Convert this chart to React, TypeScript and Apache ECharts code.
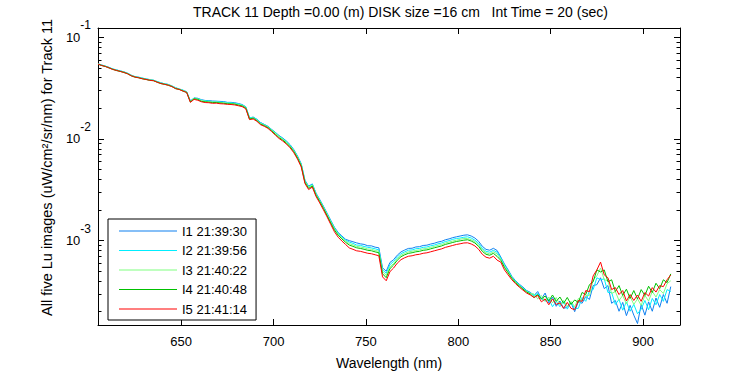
import React, { useEffect, useRef } from "react";
import * as echarts from "echarts";

const wavelengths = [
  605, 607, 609, 611, 613, 615, 617, 619, 621, 623, 625, 627, 629, 631, 633, 635, 637, 639, 641, 643, 645, 647, 649, 651, 653,
  655, 657, 659, 661, 663, 665, 667, 669, 671, 673, 675, 677, 679, 681, 683, 685, 687, 689, 691, 693, 695, 697, 699,
  701, 703, 705, 707, 709, 711, 713, 715, 717, 719, 721, 723, 725, 727, 729, 731, 733, 735, 737, 739,
  741, 743, 745, 747, 749, 751, 753, 755, 757, 759, 761, 763, 765, 767, 769, 771, 773, 775, 777, 779,
  781, 783, 785, 787, 789, 791, 793, 795, 797, 799, 801, 803, 805, 807, 809, 811, 813, 815, 817, 819,
  821, 823, 825, 827, 829, 831, 833, 835, 837, 839,
  841, 843, 845, 847, 849, 851, 853, 855, 857, 859, 861, 863, 865, 867, 869, 871, 873, 875, 877, 879,
  881, 883, 885, 887, 889, 891, 893, 895, 897, 899, 901, 903, 905, 907, 909, 911, 913, 915,
];

const seriesNames = ["I1 21:39:30", "I2 21:39:56", "I3 21:40:22", "I4 21:40:48", "I5 21:41:14"];
const seriesColors = ["#0f80f0", "#00eeff", "#80ff80", "#00c000", "#ff0000"];

const i1 = [
  0.0549, 0.0533, 0.052, 0.0506, 0.0487, 0.0478, 0.0466, 0.0458, 0.0442, 0.0424, 0.041, 0.0405, 0.0396, 0.0389, 0.0383, 0.0378, 0.0367, 0.0356, 0.0349, 0.0343, 0.0332, 0.0318, 0.031, 0.0301, 0.0291,
  0.0236, 0.0253, 0.0251, 0.0243, 0.0239, 0.0238, 0.0236, 0.0235, 0.0234, 0.0233, 0.0229, 0.0229, 0.0227, 0.0223, 0.0218, 0.0207, 0.0161, 0.0164, 0.0156, 0.0145, 0.0139, 0.0133, 0.0124,
  0.0116, 0.0108, 0.0102, 0.00953, 0.00877, 0.00784, 0.00679, 0.0057, 0.00393, 0.00343, 0.00361, 0.00293, 0.00254, 0.00218, 0.00186, 0.00158, 0.00135, 0.0012, 0.00111, 0.00103,
  0.001, 0.000975, 0.00095, 0.00093, 0.000918, 0.00089, 0.000888, 0.000862, 0.00085, 0.00054, 0.0005, 0.00061, 0.00065, 0.00072, 0.000775, 0.000808, 0.000838, 0.000842, 0.000866, 0.000872,
  0.000896, 0.000902, 0.000925, 0.000942, 0.000968, 0.000985, 0.00102, 0.00104, 0.00107, 0.00109, 0.00111, 0.00113, 0.00114, 0.00111, 0.00106, 0.000985, 0.00088, 0.00082, 0.000805, 0.00084,
  0.0008, 0.00069, 0.000588, 0.000515, 0.000445, 0.000403, 0.000373, 0.000349, 0.000323, 0.00031,
  0.000289, 0.000316, 0.000267, 0.000305, 0.000244, 0.000279, 0.000226, 0.000255, 0.000216, 0.000221, 0.000247, 0.0002, 0.000253, 0.000242, 0.000282, 0.000264, 0.000361, 0.000369, 0.000431, 0.000337,
  0.000361, 0.000242, 0.000258, 0.000202, 0.000247, 0.000183, 0.000231, 0.000185, 0.000153, 0.000236, 0.000185, 0.00025, 0.000202, 0.000273, 0.000221, 0.000295, 0.000242, 0.000353,
];

const i2 = [
  0.0548, 0.0531, 0.0521, 0.0503, 0.0488, 0.0476, 0.0467, 0.0456, 0.0443, 0.0422, 0.0411, 0.0403, 0.0397, 0.0388, 0.0384, 0.0377, 0.0366, 0.0357, 0.0348, 0.0344, 0.0331, 0.0319, 0.0309, 0.0302, 0.029,
  0.0235, 0.0252, 0.0249, 0.0241, 0.0237, 0.0236, 0.0233, 0.0234, 0.0231, 0.023, 0.0228, 0.0227, 0.0224, 0.0221, 0.0216, 0.0206, 0.0162, 0.0163, 0.0155, 0.0144, 0.0138, 0.0132, 0.0123,
  0.0115, 0.0107, 0.0101, 0.00941, 0.00866, 0.00774, 0.00671, 0.00562, 0.00388, 0.00339, 0.00357, 0.0029, 0.00251, 0.00215, 0.00183, 0.00156, 0.00133, 0.00118, 0.00109, 0.00101,
  0.000968, 0.00094, 0.000905, 0.000899, 0.000876, 0.00086, 0.000848, 0.000831, 0.00081, 0.000515, 0.000478, 0.00058, 0.000625, 0.00069, 0.000745, 0.000775, 0.000805, 0.00081, 0.000832, 0.000838,
  0.00086, 0.000866, 0.000889, 0.000905, 0.00093, 0.000948, 0.00098, 0.001, 0.00103, 0.00105, 0.00106, 0.00108, 0.00109, 0.00106, 0.00101, 0.00094, 0.00084, 0.000785, 0.00077, 0.000802,
  0.00077, 0.000675, 0.000575, 0.000505, 0.000438, 0.000398, 0.000368, 0.000342, 0.00032, 0.000305,
  0.000289, 0.000302, 0.000267, 0.000255, 0.000267, 0.000224, 0.000253, 0.000224, 0.000253, 0.000212, 0.000247, 0.000214, 0.000216, 0.000276, 0.000253, 0.000323, 0.00033, 0.000431, 0.000412, 0.000421,
  0.000309, 0.000309, 0.000236, 0.000264, 0.000207, 0.00025, 0.000202, 0.000236, 0.000191, 0.000212, 0.000258, 0.000209, 0.00027, 0.000234, 0.000295, 0.000253, 0.00033, 0.000316,
];

const i3 = [
  0.0547, 0.0529, 0.0519, 0.0502, 0.0485, 0.0475, 0.0464, 0.0455, 0.044, 0.0421, 0.0409, 0.0402, 0.0394, 0.0387, 0.0381, 0.0377, 0.0364, 0.0354, 0.0347, 0.0341, 0.033, 0.0316, 0.0309, 0.0299, 0.0289,
  0.0233, 0.0251, 0.0247, 0.0239, 0.0235, 0.0233, 0.0231, 0.0231, 0.0229, 0.0227, 0.0225, 0.0224, 0.0222, 0.0218, 0.0214, 0.0204, 0.0159, 0.0161, 0.0153, 0.0142, 0.0137, 0.0131, 0.0122,
  0.0114, 0.0106, 0.00997, 0.00929, 0.00855, 0.00764, 0.00662, 0.00555, 0.00383, 0.00334, 0.00352, 0.00286, 0.00247, 0.00212, 0.00181, 0.00153, 0.00131, 0.00116, 0.00107, 0.000991,
  0.000935, 0.000908, 0.000878, 0.000866, 0.00085, 0.000828, 0.000822, 0.0008, 0.000785, 0.000495, 0.000455, 0.000552, 0.000596, 0.000664, 0.000718, 0.00075, 0.000776, 0.000786, 0.0008, 0.000812,
  0.00083, 0.000838, 0.000858, 0.000876, 0.000898, 0.000915, 0.000948, 0.000968, 0.00099, 0.00101, 0.00103, 0.00105, 0.00105, 0.00102, 0.00098, 0.000908, 0.000812, 0.00076, 0.000743, 0.000776,
  0.00074, 0.00066, 0.00056, 0.000495, 0.000432, 0.000392, 0.000362, 0.000338, 0.000316, 0.000302,
  0.000299, 0.000267, 0.000289, 0.000253, 0.000279, 0.000244, 0.000276, 0.000234, 0.000258, 0.000226, 0.000253, 0.000224, 0.00027, 0.000258, 0.000289, 0.000289, 0.000412, 0.00045, 0.000538, 0.000412,
  0.000403, 0.000302, 0.000316, 0.000258, 0.000289, 0.000238, 0.000282, 0.000236, 0.000267, 0.000231, 0.000289, 0.000255, 0.000316, 0.000279, 0.00033, 0.000302, 0.000377, 0.000403,
];

const i4 = [
  0.0544, 0.0528, 0.0515, 0.05, 0.0484, 0.047, 0.0462, 0.045, 0.0438, 0.0417, 0.0405, 0.04, 0.039, 0.0385, 0.0376, 0.0374, 0.0362, 0.035, 0.0345, 0.0337, 0.0328, 0.0312, 0.0307, 0.0295, 0.0287,
  0.0231, 0.0248, 0.0245, 0.0234, 0.0232, 0.023, 0.0228, 0.0228, 0.0226, 0.0224, 0.0222, 0.0221, 0.022, 0.0215, 0.0211, 0.0201, 0.0157, 0.016, 0.0151, 0.014, 0.0135, 0.0129, 0.012,
  0.0111, 0.0103, 0.00975, 0.00909, 0.00836, 0.00748, 0.00648, 0.00543, 0.00374, 0.00326, 0.00344, 0.00279, 0.00242, 0.00207, 0.00176, 0.00149, 0.00127, 0.00113, 0.00104, 0.000963,
  0.000905, 0.000878, 0.00085, 0.000838, 0.000822, 0.000803, 0.000795, 0.000775, 0.00076, 0.000472, 0.000432, 0.00053, 0.000576, 0.000642, 0.000695, 0.000726, 0.00075, 0.00076, 0.000776, 0.000785,
  0.000803, 0.000811, 0.00083, 0.000849, 0.000868, 0.000887, 0.000917, 0.000937, 0.000959, 0.00098, 0.000995, 0.00101, 0.00102, 0.000991, 0.000948, 0.000878, 0.000785, 0.000734, 0.000718, 0.00075,
  0.0007, 0.00064, 0.000545, 0.000482, 0.000425, 0.000388, 0.000358, 0.000334, 0.000312, 0.000298,
  0.000276, 0.000295, 0.000267, 0.000285, 0.000255, 0.000292, 0.000253, 0.000279, 0.000242, 0.000276, 0.000236, 0.000261, 0.000247, 0.000309, 0.000295, 0.000369, 0.000394, 0.000515, 0.000492, 0.000515,
  0.000394, 0.000412, 0.000316, 0.000361, 0.000289, 0.000333, 0.00027, 0.000323, 0.000267, 0.00033, 0.000289, 0.000356, 0.000309, 0.000381, 0.000337, 0.000412, 0.000386, 0.000471,
];

const i5 = [
  0.0545, 0.0527, 0.0516, 0.0499, 0.0482, 0.0472, 0.0461, 0.0451, 0.0437, 0.0418, 0.0406, 0.0399, 0.0391, 0.0384, 0.0378, 0.0374, 0.0361, 0.0351, 0.0344, 0.0338, 0.0327, 0.0313, 0.0306, 0.0296, 0.0286,
  0.0229, 0.0245, 0.024, 0.0232, 0.0228, 0.0227, 0.0224, 0.0225, 0.0222, 0.0221, 0.0219, 0.0218, 0.0216, 0.0212, 0.0208, 0.0198, 0.0155, 0.0157, 0.0149, 0.0138, 0.0133, 0.0127, 0.0118,
  0.0109, 0.0101, 0.00954, 0.00889, 0.00817, 0.00731, 0.00633, 0.0053, 0.00365, 0.00318, 0.00336, 0.00272, 0.00235, 0.00201, 0.00171, 0.00144, 0.00122, 0.00108, 0.000991, 0.000917,
  0.000848, 0.000821, 0.000794, 0.000785, 0.000768, 0.000751, 0.000743, 0.000726, 0.00071, 0.00044, 0.000403, 0.000495, 0.000538, 0.000601, 0.00065, 0.000679, 0.000702, 0.00071, 0.000726, 0.000734,
  0.000751, 0.000759, 0.000776, 0.000794, 0.000812, 0.00083, 0.000858, 0.000877, 0.000897, 0.000917, 0.000931, 0.000948, 0.000952, 0.000927, 0.000887, 0.000821, 0.000734, 0.000687, 0.000672, 0.000702,
  0.000643, 0.000615, 0.000515, 0.00046, 0.000412, 0.000377, 0.000349, 0.000326, 0.000305, 0.000292,
  0.000276, 0.000289, 0.00025, 0.000267, 0.000234, 0.000267, 0.000236, 0.000244, 0.000216, 0.000247, 0.000216, 0.000209, 0.000258, 0.000253, 0.000323, 0.000315, 0.00045, 0.000515, 0.000615, 0.00046,
  0.000431, 0.00033, 0.000345, 0.000295, 0.000323, 0.000255, 0.000295, 0.000258, 0.000292, 0.000253, 0.000309, 0.000285, 0.000345, 0.000312, 0.000361, 0.000353, 0.000412, 0.00046,
];

const seriesValues = [i1, i2, i3, i4, i5];

const xTickValues = [650, 700, 750, 800, 850, 900];
const yMajorTickValues = [0.001, 0.01, 0.1];
const yMinorTickValues = [
  0.0002, 0.0003, 0.0004, 0.0005, 0.0006, 0.0007, 0.0008, 0.0009,
  0.002, 0.003, 0.004, 0.005, 0.006, 0.007, 0.008, 0.009,
  0.02, 0.03, 0.04, 0.05, 0.06, 0.07, 0.08, 0.09,
];

const X_MIN = 605;
const X_MAX = 920;
const Y_MIN = 0.000148;
const Y_MAX = 0.1233;

const titleText = "TRACK 11 Depth =0.00 (m) DISK size =16 cm   Int Time = 20 (sec)";
const xName = "Wavelength (nm)";
const yName = "All five Lu images (uW/cm\u00b2/sr/nm) for Track 11";

export default function App() {
  const ref = useRef<HTMLDivElement>(null);

  useEffect(() => {
    if (!ref.current) return;
    const chart = echarts.init(ref.current, null, { renderer: "svg" });
    const font = "'Liberation Sans', Arial, Helvetica, sans-serif";
    const black = "#000";

    const baseY = {
      type: "log" as const,
      logBase: 10,
      min: Y_MIN,
      max: Y_MAX,
      splitLine: { show: false },
      minorTick: { show: false },
    };
    const baseX = {
      type: "value" as const,
      min: X_MIN,
      max: X_MAX,
      splitLine: { show: false },
    };

    const option: any = {
      animation: false,
      backgroundColor: "#fff",
      textStyle: { fontFamily: font },
      title: {
        text: titleText,
        left: 193,
        top: 5,
        padding: 0,
        textStyle: { fontSize: 14, fontWeight: "normal", color: black, fontFamily: font },
      },
      grid: { left: 98, top: 28, right: 70, bottom: 44, containLabel: false },
      legend: {
        orient: "vertical",
        left: 108,
        top: 219,
        padding: [5, 9, 4, 11],
        itemGap: 5.5,
        itemWidth: 58,
        itemHeight: 1,
        icon: "rect",
        borderColor: black,
        borderWidth: 1,
        borderRadius: 0,
        backgroundColor: "#fff",
        textStyle: { fontSize: 13, color: black, fontFamily: font, lineHeight: 14 },
        data: seriesNames,
      },
      xAxis: [
        {
          ...baseX,
          position: "bottom",
          axisLine: { show: true, lineStyle: { color: black, width: 1 } },
          axisTick: { show: true, inside: true, length: 6, customValues: xTickValues, lineStyle: { color: black } },
          axisLabel: { customValues: xTickValues, color: black, fontSize: 13, fontFamily: font, margin: 10 },
          name: xName,
          nameLocation: "middle",
          nameGap: 31,
          nameTextStyle: { fontSize: 14, color: black, fontFamily: font },
        },
        {
          ...baseX,
          position: "top",
          axisLine: { show: true, lineStyle: { color: black, width: 1 } },
          axisTick: { show: true, inside: true, length: 6, customValues: xTickValues, lineStyle: { color: black } },
          axisLabel: { show: false },
        },
      ],
      yAxis: [
        {
          ...baseY,
          position: "left",
          axisLine: { show: true, lineStyle: { color: black, width: 1 } },
          axisTick: { show: true, inside: true, length: 6, customValues: yMajorTickValues, lineStyle: { color: black } },
          axisLabel: {
            customValues: yMajorTickValues,
            margin: 7,
            formatter: (v: number) => `{b|10}{e|${Math.round(Math.log10(v))}}`,
            rich: {
              b: { fontSize: 13, lineHeight: 36, verticalAlign: "middle", color: black, fontFamily: font },
              e: { fontSize: 12, lineHeight: 12, verticalAlign: "top", color: black, fontFamily: font },
            },
          },
          name: yName,
          nameLocation: "middle",
          nameGap: 41,
          nameRotate: 90,
          nameTextStyle: { fontSize: 14.5, color: black, fontFamily: font, padding: [0, 0, 0, 18] },
        },
        {
          ...baseY,
          position: "right",
          axisLine: { show: true, lineStyle: { color: black, width: 1 } },
          axisTick: { show: true, inside: true, length: 6, customValues: yMajorTickValues, lineStyle: { color: black } },
          axisLabel: { show: false },
        },
        {
          ...baseY,
          position: "left",
          axisLine: { show: false },
          axisTick: { show: true, inside: true, length: 3.5, customValues: yMinorTickValues, lineStyle: { color: black } },
          axisLabel: { show: false },
        },
        {
          ...baseY,
          position: "right",
          axisLine: { show: false },
          axisTick: { show: true, inside: true, length: 3.5, customValues: yMinorTickValues, lineStyle: { color: black } },
          axisLabel: { show: false },
        },
      ],
      series: seriesNames.map((name, k) => ({
        type: "line",
        name,
        xAxisIndex: 0,
        yAxisIndex: 0,
        symbol: "none",
        showSymbol: false,
        silent: true,
        lineStyle: { width: 1, color: seriesColors[k] },
        itemStyle: { color: seriesColors[k] },
        data: wavelengths.map((w, i) => [w, seriesValues[k][i]]),
      })),
    };

    chart.setOption(option);
    return () => chart.dispose();
  }, []);

  return (
    <div
      ref={ref}
      style={{ position: "fixed", left: 0, top: 0, width: 750, height: 375, background: "#fff" }}
    />
  );
}
